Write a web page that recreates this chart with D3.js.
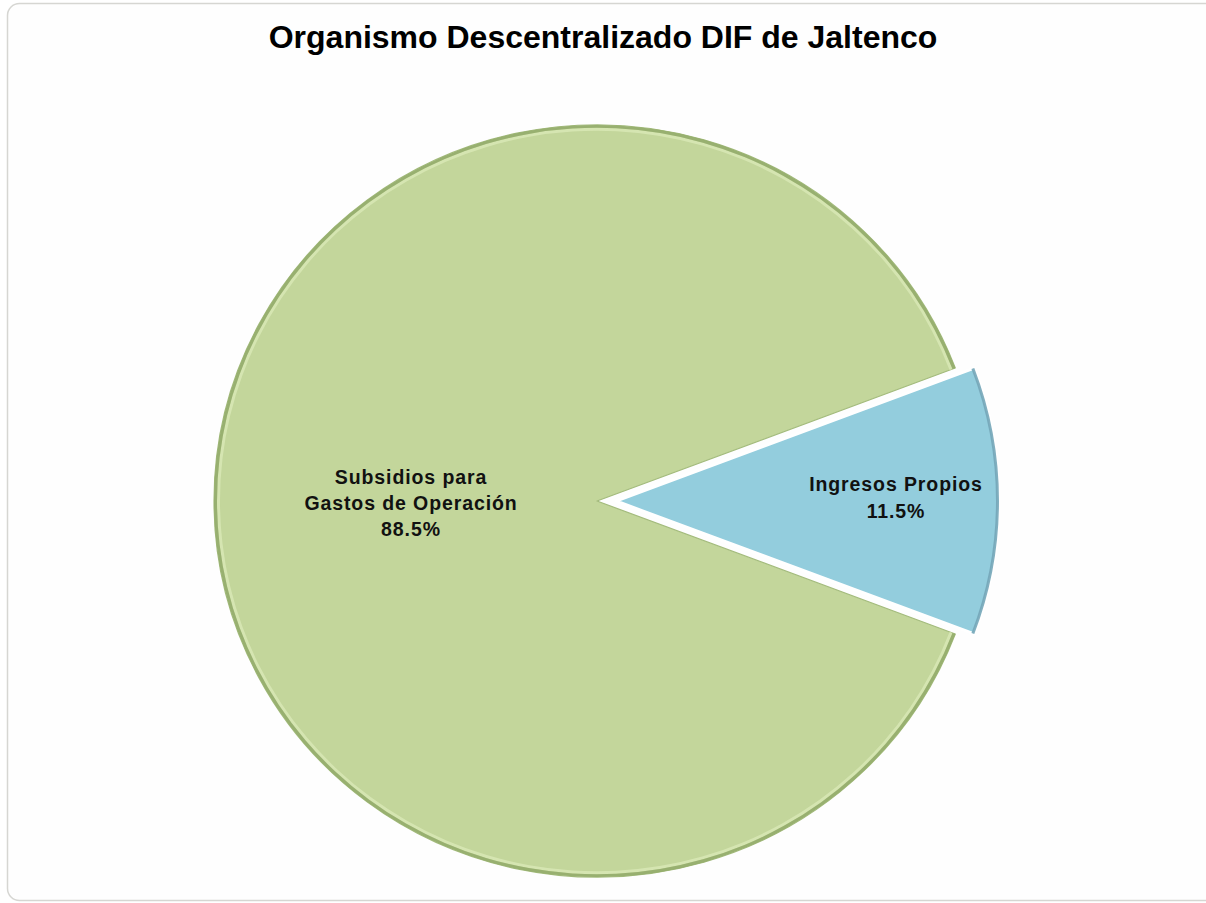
<!DOCTYPE html>
<html>
<head>
<meta charset="utf-8">
<script src="https://cdn.jsdelivr.net/npm/d3@7/dist/d3.min.js"></script>
<style>
  html, body { margin: 0; padding: 0; background: #ffffff; }
  svg { display: block; }
</style>
</head>
<body>
<svg id="chart" width="1206" height="903"></svg>
<script>
// ---- data ----
const title = "Organismo Descentralizado DIF de Jaltenco";
const categories = ["Subsidios para Gastos de Operación", "Ingresos Propios"];
const labelLines = [["Subsidios para", "Gastos de Operación"], ["Ingresos Propios"]];
const values = [88.5, 11.5];
const percentLabels = ["88.5%", "11.5%"];

// ---- styles / layout ----
const fills = ["#c3d69b", "#93cddd"];
const edgeDark = ["#94ac6b", "#74a6b8"];
const edgeLight = ["#dbeab8", "#b9e3ee"];
const explode = [3, 16];
const cx = 600, cy = 501, r = 383, yScale = 0.982;

const svg = d3.select("#chart");

// frame
svg.append("rect")
  .attr("x", 7.5).attr("y", 3.5)
  .attr("width", 1240).attr("height", 897)
  .attr("rx", 12).attr("ry", 12)
  .attr("fill", "#fefefe")
  .attr("stroke", "#d6d6d2").attr("stroke-width", 1.5);

// title
svg.append("text")
  .attr("x", 603).attr("y", 48)
  .attr("text-anchor", "middle")
  .attr("font-family", "Liberation Sans, Arial, sans-serif")
  .attr("font-weight", "bold")
  .attr("font-size", 32)
  .attr("fill", "#000")
  .text(title);

const total = d3.sum(values);
const half = (values[1] / total) * Math.PI; // half angle of second slice
const pie = d3.pie().sort(null)
  .startAngle(Math.PI / 2 + half)
  .endAngle(Math.PI / 2 + half + 2 * Math.PI);
const arcs = pie(values);

const arcMain = d3.arc().innerRadius(0).outerRadius(r);
const arcEdge = d3.arc().innerRadius(r - 3).outerRadius(r);
const arcHi = d3.arc().innerRadius(r - 6).outerRadius(r - 3);

const root = svg.append("g")
  .attr("transform", `translate(${cx},${cy}) scale(1,${yScale})`);

arcs.forEach((a, i) => {
  const mid = (a.startAngle + a.endAngle) / 2;
  const dx = Math.sin(mid) * explode[i];
  const dy = -Math.cos(mid) * explode[i];
  const g = root.append("g").attr("transform", `translate(${dx},${dy})`);
  g.append("path")
    .attr("d", arcMain(a))
    .attr("fill", fills[i])
    .attr("stroke", i === 1 ? "#ffffff" : "#a3bb7c")
    .attr("stroke-width", i === 1 ? 3 : 1.2)
    .attr("stroke-linejoin", "round");
  g.append("path")
    .attr("d", arcHi(a))
    .attr("fill", edgeLight[i])
    .attr("opacity", i === 1 ? 0.0 : 0.75);
  g.append("path")
    .attr("d", arcEdge(a))
    .attr("fill", edgeDark[i])
    .attr("opacity", 0.9);
});

// labels
const fontFam = "Liberation Sans, Arial, sans-serif";
const labelPos = [
  { x: 411, y: 484, lh: 26 },
  { x: 896, y: 491, lh: 27 }
];
arcs.forEach((a, i) => {
  const lines = labelLines[i].concat([percentLabels[i]]);
  const t = svg.append("text")
    .attr("text-anchor", "middle")
    .attr("font-family", fontFam)
    .attr("font-weight", "bold")
    .attr("font-size", 19.5)
    .attr("letter-spacing", 0.9)
    .attr("fill", "#111");
  lines.forEach((ln, k) => {
    t.append("tspan")
      .attr("x", labelPos[i].x)
      .attr("y", labelPos[i].y + k * labelPos[i].lh)
      .text(ln);
  });
});
</script>
</body>
</html>
